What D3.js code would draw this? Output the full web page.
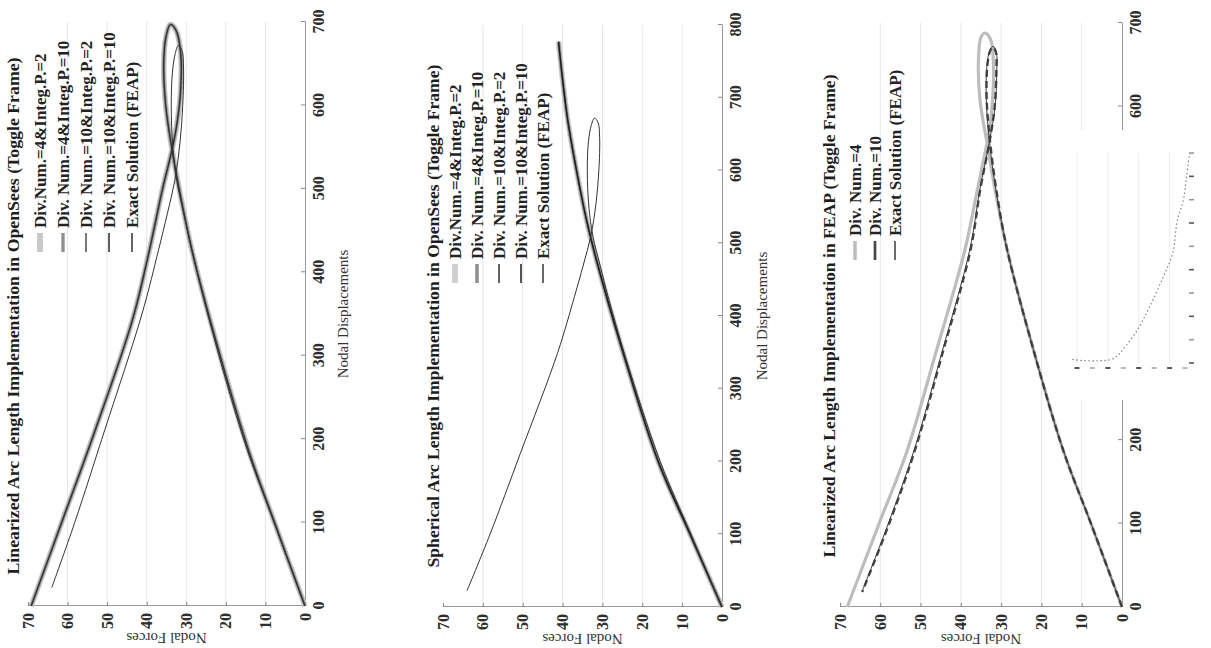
<!DOCTYPE html>
<html>
<head>
<meta charset="utf-8">
<script src="https://cdn.jsdelivr.net/npm/d3@7"></script>
<style>
  body { margin: 0; background: #fff; }
  svg { display: block; }
  text { font-family: "Liberation Serif", "Times New Roman", serif; }
</style>
</head>
<body>
<script>
// toggle frame, every path is a list of [nodal displacement, nodal force]
var forceTicks = [0, 10, 20, 30, 40, 50, 60, 70];
var dispTicksA = [0, 100, 200, 300, 400, 500, 600, 700];
var dispTicksB = [0, 100, 200, 300, 400, 500, 600, 700, 800];
var dispTicksC = [0, 100, 200, 600, 700]; // 300-500 sit under the stray inset

var titles = [
  "Linearized Arc Length Implementation in OpenSees (Toggle Frame)",
  "Spherical Arc Length Implementation in OpenSees (Toggle Frame)",
  "Linearized Arc Length Implementation in FEAP (Toggle Frame)"
];
var legendOpenSees = [
  "Div.Num.=4&Integ.P.=2",
  "Div. Num.=4&Integ.P.=10",
  "Div. Num.=10&Integ.P.=2",
  "Div. Num.=10&Integ.P.=10",
  "Exact Solution (FEAP)"
];
var legendFeap = ["Div. Num.=4", "Div. Num.=10", "Exact Solution (FEAP)"];

// exact solution (FEAP) as drawn in the two OpenSees panels
var exactPath = [[0,0],[100,7.8],[200,15.5],[343,24.2],[427,28.6],[470,30.6],[510,32.4],[550,33.4],
  [600,33.8],[640,33.5],[662,32.8],[672,32.0],[666,31.1],[645,30.7],[600,30.9],[555,31.6],[510,32.9],
  [470,34.8],[427,37.0],[350,41.2],[211,50.6],[100,58.2],[22,64.0]];

// linearized arc length in OpenSees - the four variants fall on one path
var linOsPath = [[0,0],[100,7.7],[187,14.3],[343,24.0],[427,28.6],[500,31.8],[547,33.6],[600,35.2],
  [650,35.7],[683,35.1],[697,34.0],[690,32.6],[662,31.4],[620,31.4],[580,32.3],[547,33.6],[500,36.0],
  [427,39.3],[343,43.6],[211,53.0],[100,61.5],[0,69.2]];

// spherical arc length in OpenSees - no snap back
var sphOsPath = [[0,0],[100,8.0],[200,16.0],[353,25.0],[477,31.5],[532,34.0],[600,36.5],[669,38.7],
  [730,40.1],[777,41.0]];

// linearized arc length in FEAP (exact line lies under the Div.=10 dashes here)
var feapDiv4 = [[0,0],[100,7.7],[188,14.6],[300,21.5],[428,28.5],[500,31.5],[556,33.5],[610,35.3],
  [660,35.6],[683,35.0],[688,34.0],[680,32.6],[650,31.9],[610,32.1],[575,32.8],[556,33.5],[500,35.9],
  [428,39.0],[300,46.5],[188,53.3],[100,60.3],[0,68.2]];
var feapDiv10 = [[0,0],[100,7.7],[188,14.6],[300,21.5],[428,28.5],[500,31.2],[560,32.8],[610,33.6],
  [650,33.4],[667,32.7],[671,32.0],[665,31.3],[640,31.2],[600,31.6],[560,32.8],[500,35.2],[428,37.6],
  [300,44.8],[188,51.4],[100,57.8],[18,64.5]];
var feapExact = [[0,0],[100,7.7],[188,14.6],[300,21.5],[428,28.5],[500,31.3],[558,32.9],[610,33.7],
  [650,33.5],[667,32.8],[672,32.0],[665,31.2],[640,31.1],[600,31.5],[558,32.9],[500,35.3],[428,37.8],
  [300,45.0],[188,51.6],[100,58.0],[20,64.4]];

// stray pasted inset over the third panel
var insetX = [-0.3, 0.5, 1.5, 2.2, 2.6, 3.0, 3.9, 4.7, 5.6, 6.2, 6.5, 6.9, 7.1, 7.3];
var insetY = [0.15, 0.1, 0.1, 0.15, 0.3, 0.6, 1.4, 2.4, 3.7, 4.7, 6.1, 7.0, 8.0, 9.0];
var insetXTicks = [0, 1, 2, 3, 4, 5, 6, 7];
var insetYTicks = [0, 1, 2, 3, 4, 5, 6, 7, 8, 9];
var insetGrid = [0, 2, 4, 6];

var panels = [
  { x0: 28, y0: 606, w: 584, h: 277, dMax: 700, dTicks: dispTicksA, title: titles[0], titleLen: 517,
    titleY: -9, legX: 354, legY0: 12, legStep: 23, dispLabel: 43,
    series: [
      { name: legendOpenSees[0], path: linOsPath, color: "#c8c8c8", width: 5.5 },
      { name: legendOpenSees[1], path: linOsPath, color: "#8e8e8e", width: 3 },
      { name: legendOpenSees[2], path: linOsPath, color: "#4a4a4a", width: 1.2 },
      { name: legendOpenSees[3], path: linOsPath, color: "#2a2a2a", width: 0.9 },
      { name: legendOpenSees[4], path: exactPath, color: "#333", width: 1 }
    ] },
  { x0: 443, y0: 607, w: 582, h: 279, dMax: 800, dTicks: dispTicksB, title: titles[1], titleLen: 503,
    titleY: -4, legX: 324, legY0: 12, legStep: 22, dispLabel: 45,
    series: [
      { name: legendOpenSees[0], path: sphOsPath, color: "#cfcfcf", width: 5.5 },
      { name: legendOpenSees[1], path: sphOsPath, color: "#8e8e8e", width: 3.2 },
      { name: legendOpenSees[2], path: sphOsPath, color: "#3c3c3c", width: 1.3 },
      { name: legendOpenSees[3], path: sphOsPath, color: "#1c1c1c", width: 1.2 },
      { name: legendOpenSees[4], path: exactPath, color: "#333", width: 1 }
    ] },
  { x0: 840, y0: 607, w: 584, h: 282, dMax: 700, dTicks: dispTicksC, title: titles[2], titleLen: 483,
    titleY: -5, legX: 347, legY0: 15, legStep: 20, dispLabel: null,
    series: [
      { name: legendFeap[0], path: feapDiv4, color: "#bdbdbd", width: 3.2 },
      { name: legendFeap[1], path: feapDiv10, color: "#474747", width: 2.4, dash: "7,4" },
      { name: legendFeap[2], path: feapExact, color: "#3a3a3a", width: 1 }
    ] }
];

var svg = d3.select("body").append("svg")
  .attr("width", 1211)
  .attr("height", 648);

panels.forEach(function(p) {
  // the chart is drawn upright, then turned a quarter turn anticlockwise
  var g = svg.append("g")
    .attr("transform", "translate(" + p.x0 + "," + p.y0 + ") rotate(-90)");

  var x = d3.scaleLinear().domain([0, p.dMax]).range([0, p.w]);
  var y = d3.scaleLinear().domain([0, 70]).range([p.h, 0]);

  g.selectAll("line.grid")
    .data(forceTicks.slice(1, -1))
    .enter().append("line")
    .attr("class", "grid")
    .attr("x1", 0).attr("x2", p.w)
    .attr("y1", function(d) { return y(d); })
    .attr("y2", function(d) { return y(d); })
    .attr("stroke", "#e6e6e6")
    .attr("stroke-width", 1);

  var xAxis = d3.axisBottom(x).tickValues(p.dTicks).tickFormat(d3.format("d"))
    .tickSizeInner(-4).tickSizeOuter(0).tickPadding(8);
  var yAxis = d3.axisLeft(y).tickValues(forceTicks).tickFormat(d3.format("d"))
    .tickSizeInner(-4).tickSizeOuter(0).tickPadding(7);

  var gx = g.append("g").attr("transform", "translate(0," + p.h + ")").call(xAxis);
  var gy = g.append("g").call(yAxis);
  [gx, gy].forEach(function(a) {
    a.select(".domain").attr("stroke", "#9a9a9a");
    a.selectAll(".tick line").attr("stroke", "#888");
    a.selectAll(".tick text")
      .attr("font-family", "Liberation Serif, serif")
      .attr("font-size", "16px")
      .attr("font-weight", "bold")
      .attr("fill", "#2e2e2e");
  });

  g.append("text")
    .attr("transform", "translate(-27," + (p.h / 2) + ") rotate(-90)")
    .attr("text-anchor", "middle")
    .attr("font-size", "15px")
    .attr("fill", "#333")
    .text("Nodal Forces");

  if (p.dispLabel) {
    g.append("text")
      .attr("x", p.w / 2)
      .attr("y", p.h + p.dispLabel)
      .attr("text-anchor", "middle")
      .attr("font-size", "15px")
      .attr("fill", "#333")
      .text("Nodal Displacements");
  }

  var line = d3.line()
    .x(function(d) { return x(d[0]); })
    .y(function(d) { return y(d[1]); })
    .curve(d3.curveCatmullRom.alpha(0.5));

  p.series.forEach(function(s) {
    g.append("path")
      .attr("d", line(s.path))
      .attr("fill", "none")
      .attr("stroke", s.color)
      .attr("stroke-width", s.width)
      .attr("stroke-dasharray", s.dash || null)
      .attr("stroke-linejoin", "round");
  });

  g.append("text")
    .attr("x", p.y0 - 316)
    .attr("y", p.titleY)
    .attr("text-anchor", "middle")
    .attr("font-size", "17px")
    .attr("font-weight", "bold")
    .attr("fill", "#1e1e1e")
    .attr("textLength", p.titleLen)
    .attr("lengthAdjust", "spacingAndGlyphs")
    .text(p.title);

  // legend
  var leg = g.selectAll("g.leg")
    .data(p.series)
    .enter().append("g")
    .attr("class", "leg")
    .attr("transform", function(d, i) { return "translate(" + p.legX + "," + (p.legY0 + i * p.legStep) + ")"; });
  leg.append("line")
    .attr("x1", 0).attr("x2", 19)
    .attr("stroke", function(d) { return d.color; })
    .attr("stroke-width", function(d) { return Math.max(d.width, 1.2) + 0.3; });
  leg.append("text")
    .attr("x", 24)
    .attr("dy", "0.35em")
    .attr("font-size", "17px")
    .attr("font-weight", "bold")
    .attr("fill", "#222")
    .text(function(d) { return d.name; });
});

// the inset pasted over the third panel's displacement axis
var ins = svg.append("g");
ins.append("rect")
  .attr("x", 1066).attr("y", 130)
  .attr("width", 145).attr("height", 270)
  .attr("fill", "#fff");

var ix = d3.scaleLinear().domain([0, 7]).range([1077, 1185]);
var iy = d3.scaleLinear().domain([0, 9]).range([363, 153]);

ins.selectAll("line.ig")
  .data(insetGrid)
  .enter().append("line")
  .attr("class", "ig")
  .attr("x1", function(d) { return ix(d); })
  .attr("x2", function(d) { return ix(d); })
  .attr("y1", iy(9)).attr("y2", iy(0))
  .attr("stroke", "#ececec");

ins.append("path")
  .attr("d", d3.line()
    .x(function(d) { return ix(d); })
    .y(function(d, i) { return iy(insetY[i]); })
    .curve(d3.curveCatmullRom)(insetX))
  .attr("fill", "none")
  .attr("stroke", "#7a7a7a")
  .attr("stroke-width", 1.1)
  .attr("stroke-dasharray", "1.5,2.5");

ins.selectAll("line.ixt")
  .data(insetXTicks)
  .enter().append("line")
  .attr("class", "ixt")
  .attr("x1", function(d) { return ix(d) - 2.5; })
  .attr("x2", function(d) { return ix(d) + 2.5; })
  .attr("y1", iy(0) + 5).attr("y2", iy(0) + 5)
  .attr("stroke", function(d, i) { return i % 2 ? "#bbb" : "#555"; })
  .attr("stroke-width", 2);

ins.selectAll("line.iyt")
  .data(insetYTicks)
  .enter().append("line")
  .attr("class", "iyt")
  .attr("x1", ix(7) + 4).attr("x2", ix(7) + 9)
  .attr("y1", function(d) { return iy(d); })
  .attr("y2", function(d) { return iy(d); })
  .attr("stroke", function(d, i) { return i % 2 ? "#999" : "#555"; })
  .attr("stroke-width", 1.6);
</script>
</body>
</html>
